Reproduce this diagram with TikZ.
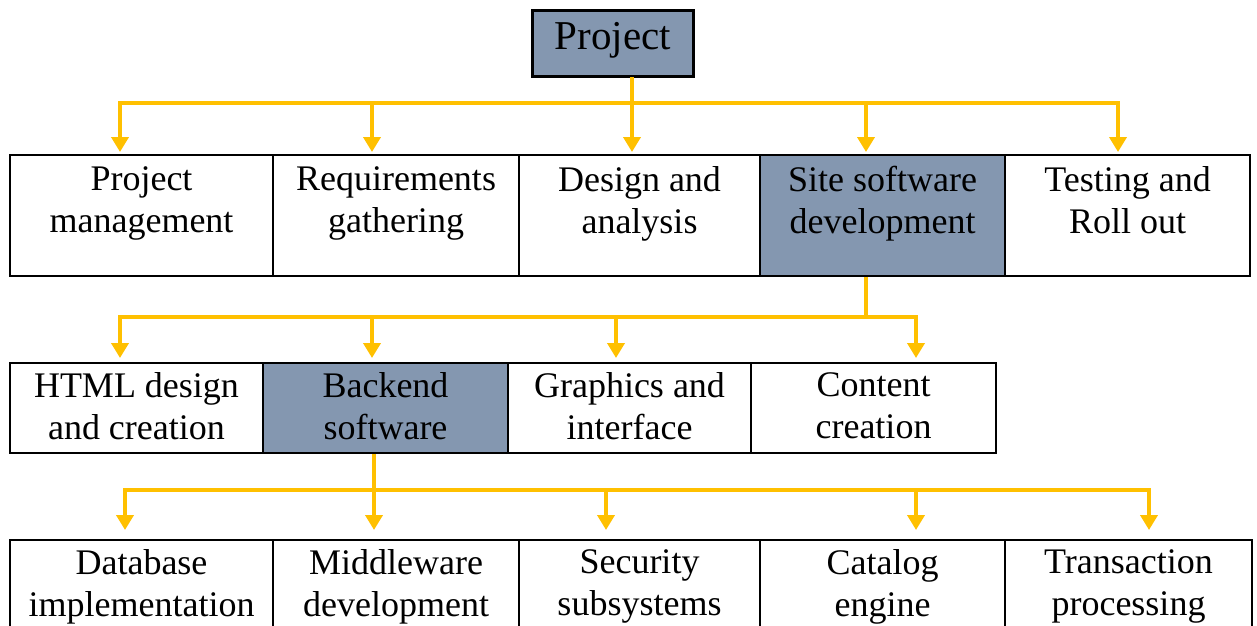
\documentclass[tikz,border=0pt]{standalone}
\usepackage{fontspec}
\setmainfont{Liberation Serif}
\usetikzlibrary{arrows.meta}
\definecolor{wbsgold}{HTML}{FFC000}
\definecolor{wbsslate}{HTML}{8497B0}

\begin{document}
\begin{tikzpicture}[x=1pt, y=-1pt,
  cell/.style={draw, line width=2.2pt, inner sep=0pt, outer sep=0pt},
  hot/.style={cell, fill=wbsslate},
  txt/.style={anchor=north, align=center, inner sep=0pt, font=\fontsize{36}{42}\selectfont},
  link/.style={wbsgold, line width=4pt, -{Triangle[width=17pt,length=15pt]}}]
  \useasboundingbox (0,0) rectangle (1257,625);

  % Top box
  \node[hot, minimum width=161pt, minimum height=66pt] (proj) at (613,43.5) {};
  \node[inner sep=0pt, font=\fontsize{41}{48}\selectfont] (proj-t) at ([yshift=3pt]proj.center) {Project};

  % First level
  \node[cell, minimum width=263pt, minimum height=121pt] (pm) at (141.5,215.5) {};
  \node[txt] (pm-t) at ([yshift=-11pt]pm.north) {Project\\management};
  \node[cell, minimum width=246pt, minimum height=121pt] (rg) at (396,215.5) {};
  \node[txt] (rg-t) at ([yshift=-11pt]rg.north) {Requirements\\gathering};
  \node[cell, minimum width=241pt, minimum height=121pt] (da) at (639.5,215.5) {};
  \node[txt] (da-t) at ([yshift=-11pt]da.north) {Design and\\analysis};
  \node[hot, minimum width=245pt, minimum height=121pt] (sd) at (882.5,215.5) {};
  \node[txt] (sd-t) at ([yshift=-11pt]sd.north) {Site software\\development};
  \node[cell, minimum width=245pt, minimum height=121pt] (te) at (1127.5,215.5) {};
  \node[txt] (te-t) at ([yshift=-11pt]te.north) {Testing and\\Roll out};

  % Second level
  \node[cell, minimum width=253pt, minimum height=90pt] (html) at (136.5,408) {};
  \node[txt] (html-t) at ([yshift=-9pt]html.north) {HTML design\\and creation};
  \node[hot, minimum width=245pt, minimum height=90pt] (be) at (385.5,408) {};
  \node[txt] (be-t) at ([yshift=-9pt]be.north) {Backend\\software};
  \node[cell, minimum width=243pt, minimum height=90pt] (gi) at (629.5,408) {};
  \node[txt] (gi-t) at ([yshift=-9pt]gi.north) {Graphics and\\interface};
  \node[cell, minimum width=245pt, minimum height=90pt] (cc) at (873.5,408) {};
  \node[txt] (cc-t) at ([yshift=-9pt]cc.north) {Content\\creation};

  % Third level
  \node[cell, minimum width=263pt, minimum height=121pt] (db) at (141.5,600.5) {};
  \node[txt] (db-t) at ([yshift=-9pt]db.north) {Database\\implementation};
  \node[cell, minimum width=246pt, minimum height=121pt] (mw) at (396,600.5) {};
  \node[txt] (mw-t) at ([yshift=-9pt]mw.north) {Middleware\\development};
  \node[cell, minimum width=241pt, minimum height=121pt] (ss) at (639.5,600.5) {};
  \node[txt] (ss-t) at ([yshift=-9pt]ss.north) {Security\\subsystems};
  \node[cell, minimum width=245pt, minimum height=121pt] (ce) at (882.5,600.5) {};
  \node[txt] (ce-t) at ([yshift=-9pt]ce.north) {Catalog\\engine};
  \node[cell, minimum width=247pt, minimum height=121pt] (tp) at (1128.5,600.5) {};
  \node[txt] (tp-t) at ([yshift=-9pt]tp.north) {Transaction\\processing};

  % Connector ends
  \coordinate (proj-out) at (632,77);
  \coordinate (sd-out) at (866,277);
  \coordinate (be-out) at (374,454);
  \coordinate (pm-in) at (120,152);
  \coordinate (rg-in) at (372,152);
  \coordinate (da-in) at (632,152);
  \coordinate (sd-in) at (866,152);
  \coordinate (te-in) at (1118,152);
  \coordinate (html-in) at (120,358);
  \coordinate (be-in) at (372,358);
  \coordinate (gi-in) at (616,358);
  \coordinate (cc-in) at (916,358);
  \coordinate (db-in) at (125,530);
  \coordinate (mw-in) at (374,530);
  \coordinate (ss-in) at (606,530);
  \coordinate (ce-in) at (916,530);
  \coordinate (tp-in) at (1149,530);

  % Arrows
  \draw[link] (proj-out) -- ++(0,26) -| (pm-in);
  \draw[link] (proj-out) -- ++(0,26) -| (rg-in);
  \draw[link] (proj-out) -- ++(0,26) -| (da-in);
  \draw[link] (proj-out) -- ++(0,26) -| (sd-in);
  \draw[link] (proj-out) -- ++(0,26) -| (te-in);

  \draw[link] (sd-out) -- ++(0,40) -| (html-in);
  \draw[link] (sd-out) -- ++(0,40) -| (be-in);
  \draw[link] (sd-out) -- ++(0,40) -| (gi-in);
  \draw[link] (sd-out) -- ++(0,40) -| (cc-in);

  \draw[link] (be-out) -- ++(0,36) -| (db-in);
  \draw[link] (be-out) -- ++(0,36) -| (mw-in);
  \draw[link] (be-out) -- ++(0,36) -| (ss-in);
  \draw[link] (be-out) -- ++(0,36) -| (ce-in);
  \draw[link] (be-out) -- ++(0,36) -| (tp-in);
\end{tikzpicture}
\end{document}
